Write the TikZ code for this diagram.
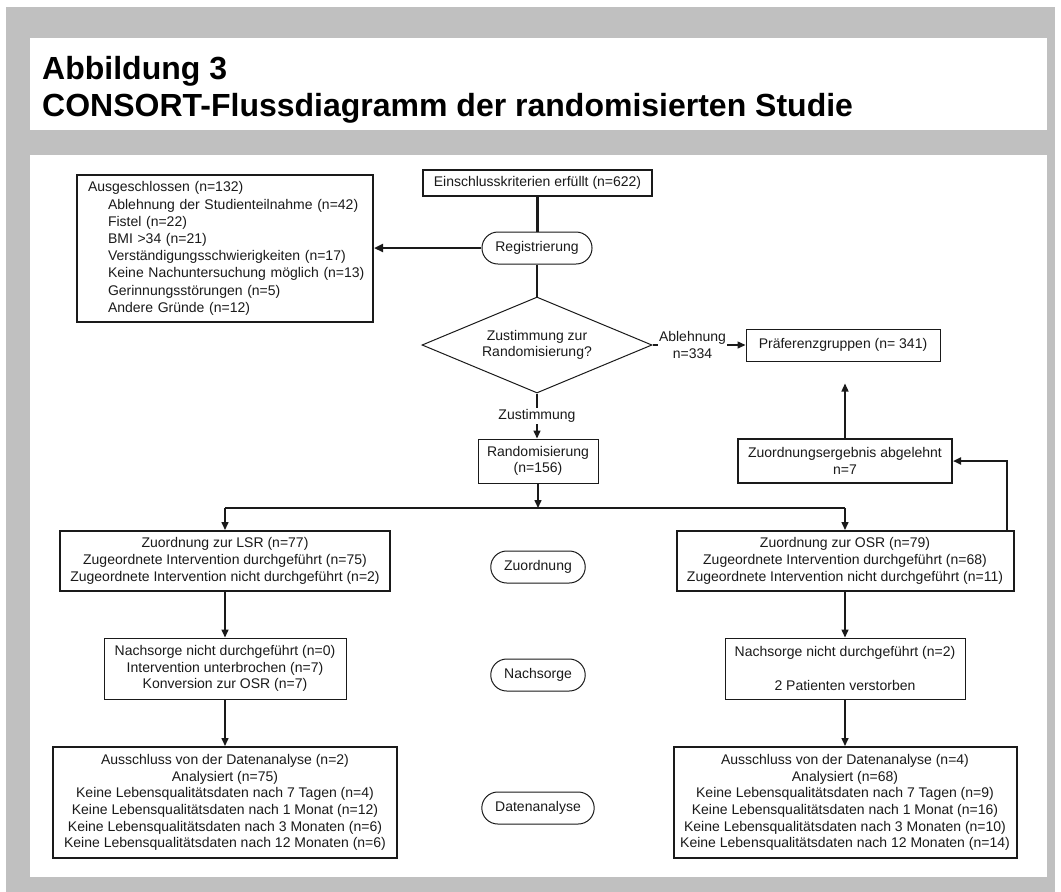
\documentclass[tikz,border=0pt]{standalone}
\usepackage{fontspec}
\setmainfont{Liberation Sans}
\usetikzlibrary{shapes.geometric,shapes.misc,arrows.meta,calc}
\definecolor{panelgray}{HTML}{C0C0C0}
\definecolor{ink}{HTML}{1A1A1A}
\newcommand\bodytxt{\fontsize{14pt}{16.7pt}\selectfont}
\newcommand\titletxt{\fontsize{32pt}{37pt}\selectfont\bfseries}
\begin{document}
\begin{tikzpicture}[x=1pt,y=-1pt,
  box/.style={draw=ink, text=ink, inner sep=0pt, align=center, font=\bodytxt},
  thinbox/.style={box, line width=1pt},
  thickbox/.style={box, line width=2pt},
  phase/.style={rounded rectangle, draw=ink, text=ink, line width=1pt, minimum height=32pt, inner xsep=12pt, inner ysep=0pt, font=\bodytxt},
  conn/.style={draw=ink, line width=1.5pt, -{Triangle[length=8pt,width=7pt]}},
  trunk/.style={draw=ink, line width=2.5pt},
  lbl/.style={fill=white, text=ink, font=\bodytxt, align=center, inner sep=1.5pt}
]
\useasboundingbox (0,0) rectangle (1061,892);
\fill[white] (0,0) rectangle (1061,892);
\fill[panelgray] (6,7) rectangle (1055,892);
\fill[white] (30,38) rectangle (1047,130);
\fill[white] (30,155) rectangle (1047,877);

% title
\node[anchor=base west, inner sep=0pt, font=\titletxt, text=black] (t1) at (42,79) {Abbildung 3};
\node[anchor=base west, inner sep=0pt, font=\titletxt, text=black] (t2) at (42,116) {CONSORT-Flussdiagramm der randomisierten Studie};

% nodes
\node[box, line width=1.5pt, minimum width=229pt, minimum height=26pt] (ein) at (537.5,183) {Einschlusskriterien erfüllt (n=622)};
\node[phase] (reg) at (537,248) {Registrierung};
\node[box, line width=2pt, text width=280pt, align=left, inner xsep=8pt, inner ysep=0pt, minimum height=147pt, font=\fontsize{14pt}{17.2pt}\selectfont] (aus) at (225,248.5)
 {\hspace*{3pt}Ausgeschlossen (n=132)\\
  \hspace*{23pt}Ablehnung der Studienteilnahme (n=42)\\
  \hspace*{23pt}Fistel (n=22)\\
  \hspace*{23pt}BMI >34 (n=21)\\
  \hspace*{23pt}Verständigungsschwierigkeiten (n=17)\\
  \hspace*{23pt}Keine Nachuntersuchung möglich (n=13)\\
  \hspace*{23pt}Gerinnungsstörungen (n=5)\\
  \hspace*{23pt}Andere Gründe (n=12)};
\node[shape=diamond, aspect=2.4, draw=ink, text=ink, line width=1pt, minimum width=230pt, minimum height=96pt, inner sep=0pt, align=center, font=\bodytxt] (dia) at (537,345) {Zustimmung zur\\Randomisierung?};
\node[thinbox, minimum width=194pt, minimum height=32pt] (pref) at (843,345) {Präferenzgruppen (n= 341)};
\node[thinbox, minimum width=120pt, minimum height=44pt] (rand) at (538,461) {Randomisierung\\(n=156)};
\node[thickbox, minimum width=214pt, minimum height=44pt] (zerg) at (845,461) {Zuordnungsergebnis abgelehnt\\n=7};
\node[thickbox, minimum width=330pt, minimum height=60pt] (lsr) at (225,561)
 {Zuordnung zur LSR (n=77)\\Zugeordnete Intervention durchgeführt (n=75)\\Zugeordnete Intervention nicht durchgeführt (n=2)};
\node[thickbox, minimum width=337pt, minimum height=60pt] (osr) at (845,561)
 {Zuordnung zur OSR (n=79)\\Zugeordnete Intervention durchgeführt (n=68)\\Zugeordnete Intervention nicht durchgeführt (n=11)};
\node[phase] (zuo) at (538,567) {Zuordnung};
\node[thinbox, minimum width=242pt, minimum height=61pt] (nl) at (225,668.5)
 {Nachsorge nicht durchgeführt (n=0)\\Intervention unterbrochen (n=7)\\Konversion zur OSR (n=7)};
\node[thinbox, minimum width=240pt, minimum height=61pt] (nr) at (845,668.5)
 {Nachsorge nicht durchgeführt (n=2)\\[16.7pt]2 Patienten verstorben};
\node[phase] (nach) at (538,675) {Nachsorge};
\node[thickbox, minimum width=344pt, minimum height=111pt] (dl) at (225,802.5)
 {Ausschluss von der Datenanalyse (n=2)\\Analysiert (n=75)\\Keine Lebensqualitätsdaten nach 7 Tagen (n=4)\\Keine Lebensqualitätsdaten nach 1 Monat (n=12)\\Keine Lebensqualitätsdaten nach 3 Monaten (n=6)\\Keine Lebensqualitätsdaten nach 12 Monaten (n=6)};
\node[thickbox, minimum width=343pt, minimum height=111pt] (dr) at (845,802.5)
 {Ausschluss von der Datenanalyse (n=4)\\Analysiert (n=68)\\Keine Lebensqualitätsdaten nach 7 Tagen (n=9)\\Keine Lebensqualitätsdaten nach 1 Monat (n=16)\\Keine Lebensqualitätsdaten nach 3 Monaten (n=10)\\Keine Lebensqualitätsdaten nach 12 Monaten (n=14)};
\node[phase] (dat) at (538,808) {Datenanalyse};

% connectors
\draw[trunk] (ein.south) -- (ein.south |- reg.north);
\draw[trunk] (reg.south) -- (reg.south |- dia.north);
\draw[trunk, -{Triangle[length=9pt,width=8pt]}] (reg.west) -- (reg.west -| aus.east);
\draw[conn] (dia.east) -- node[lbl, pos=0.43] {Ablehnung\\n=334} (dia.east -| pref.west);
\draw[conn] (dia.south) -- node[lbl] {Zustimmung} (dia.south |- rand.north);
\coordinate (split) at (538,508);
\draw[conn] (rand.south) -- (split);
\draw[trunk] (split -| lsr.north) -- (split -| osr.north);
\draw[conn] (split -| lsr.north) -- (lsr.north);
\draw[conn] (split -| osr.north) -- (osr.north);
\draw[conn] (lsr.south) -- (nl.north);
\draw[conn] (nl.south) -- (dl.north);
\draw[conn] (osr.south) -- (nr.north);
\draw[conn] (nr.south) -- (dr.north);
\draw[conn, line width=1.2pt, shorten >=22pt] (zerg.north) -- (zerg.north |- pref.south);
\coordinate (osrc) at ($(osr.north east)+(-8,0)$);
\draw[conn, line width=2pt] (osrc) |- (zerg.east);
\end{tikzpicture}
\end{document}
